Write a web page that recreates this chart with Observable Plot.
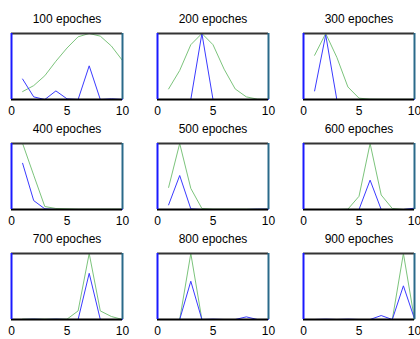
<!DOCTYPE html>
<html>
<head>
<meta charset="utf-8">
<script src="https://cdn.jsdelivr.net/npm/d3@7"></script>
<script src="https://cdn.jsdelivr.net/npm/@observablehq/plot@0.6"></script>
<style>
  body { margin: 0; background: #fff; }
  svg { display: block; }
</style>
</head>
<body>
<div id="chart"></div>
<script>
const epochs = [100, 200, 300, 400, 500, 600, 700, 800, 900];
const xs = [1, 2, 3, 4, 5, 6, 7, 8, 9, 10];
const xTicks = [0, 5, 10];

const green100 = [0.12, 0.21, 0.36, 0.58, 0.78, 0.95, 1.0, 0.96, 0.81, 0.59];
const blue100  = [0.31, 0.04, 0.0, 0.13, 0.01, 0.0, 0.51, 0.0, 0.01, 0.0];
const green200 = [0.16, 0.44, 0.83, 1.0, 0.83, 0.46, 0.16, 0.04, 0.005, 0.0];
const blue200  = [0.0, 0.0, 0.0, 1.0, 0.0, 0.0, 0.0, 0.0, 0.0, 0.0];
const green300 = [0.67, 1.0, 0.64, 0.19, 0.02, 0.005, 0.003, 0.002, 0.002, 0.002];
const blue300  = [0.13, 0.98, 0.0, 0.0, 0.0, 0.0, 0.0, 0.0, 0.0, 0.0];
const green400 = [1.0, 0.52, 0.045, 0.015, 0.01, 0.005, 0.005, 0.005, 0.005, 0.005];
const blue400  = [0.7, 0.135, 0.01, 0.0, 0.0, 0.0, 0.0, 0.0, 0.0, 0.0];
const green500 = [0.335, 1.0, 0.32, 0.015, 0.005, 0.005, 0.005, 0.005, 0.005, 0.005];
const blue500  = [0.07, 0.515, 0.01, 0.0, 0.0, 0.0, 0.0, 0.0, 0.005, 0.005];
const green600 = [0.0, 0.0, 0.0, 0.005, 0.2, 1.0, 0.22, 0.015, 0.0, 0.01];
const blue600  = [0.0, 0.0, 0.0, 0.0, 0.0, 0.445, 0.0, 0.0, 0.0, 0.02];
const green700 = [0.005, 0.005, 0.005, 0.005, 0.005, 0.13, 1.0, 0.13, 0.045, 0.0];
const blue700  = [0.0, 0.005, 0.0, 0.005, 0.0, 0.0, 0.7, 0.0, 0.0, 0.0];
const green800 = [0.0, 0.0, 1.0, 0.0, 0.0, 0.0, 0.0, 0.0, 0.0, 0.0];
const blue800  = [0.0, 0.0, 0.58, 0.0, 0.005, 0.0, 0.0, 0.04, 0.0, 0.0];
const green900 = [0.0, 0.0, 0.0, 0.0, 0.0, 0.0, 0.0, 0.0, 1.0, 0.0];
const blue900  = [0.0, 0.005, 0.0, 0.005, 0.0, 0.0, 0.06, 0.0, 0.51, 0.01];

const greens = [green100, green200, green300, green400, green500, green600, green700, green800, green900];
const blues  = [blue100, blue200, blue300, blue400, blue500, blue600, blue700, blue800, blue900];

const rows = [];
epochs.forEach((e, i) => {
  xs.forEach((x, j) => {
    rows.push({panel: i, col: i % 3, row: Math.floor(i / 3), x, series: "green", y: greens[i][j]});
    rows.push({panel: i, col: i % 3, row: Math.floor(i / 3), x, series: "blue", y: blues[i][j]});
  });
});
const titles = epochs.map((e, i) => ({col: i % 3, row: Math.floor(i / 3), label: `${e} epoches`}));

const chart = Plot.plot({
  width: 420,
  height: 339,
  marginLeft: 11,
  marginRight: 6,
  marginTop: 32,
  marginBottom: 18,
  style: {fontFamily: "Liberation Sans, Arial, sans-serif", fontSize: "11px", background: "#fff"},
  fx: {axis: null, paddingInner: 0.24, paddingOuter: 0, domain: [0, 1, 2]},
  fy: {axis: null, paddingInner: 0.396, paddingOuter: 0, domain: [0, 1, 2]},
  x: {domain: [0, 10]},
  y: {domain: [0, 1], axis: null},
  marks: [
    Plot.line(rows.filter(d => d.series === "green"), {x: "x", y: "y", fx: "col", fy: "row", z: "panel", stroke: "#7cc47c", strokeWidth: 1}),
    Plot.line(rows.filter(d => d.series === "blue"), {x: "x", y: "y", fx: "col", fy: "row", z: "panel", stroke: "#3a3aff", strokeWidth: 1}),
    Plot.ruleY([1], {stroke: "#333", strokeWidth: 2}),
    Plot.ruleY([0], {stroke: "#000", strokeWidth: 2}),
    Plot.ruleX([0], {stroke: "#1a1aff", strokeWidth: 2}),
    Plot.ruleX([10], {stroke: "#2a6a8a", strokeWidth: 2}),
    Plot.axisX({ticks: xTicks, tickSize: 0, tickPadding: 7, fontSize: 12, facetAnchor: null, label: null}),
    Plot.text(titles, {fx: "col", fy: "row", text: "label", frameAnchor: "top", dy: -14, fontSize: 12, fill: "#000", lineAnchor: "middle"})
  ]
});
document.getElementById("chart").appendChild(chart);
</script>
</body>
</html>
